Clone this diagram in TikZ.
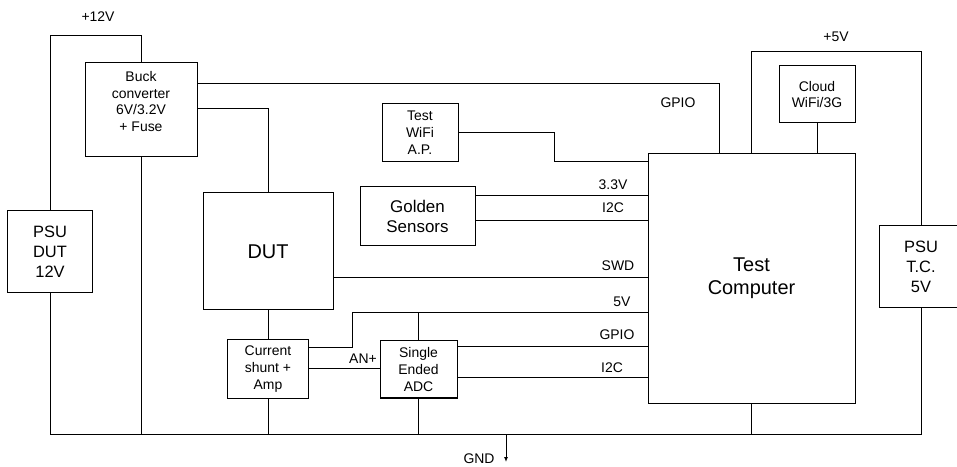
\documentclass[tikz,border=0pt]{standalone}
\usepackage{fontspec}
\setmainfont{Liberation Sans}
\usetikzlibrary{arrows.meta}

\tikzset{
  blk/.style={draw, line width=1bp, inner sep=0pt, align=center, font=\fontsize{14}{17}\selectfont},
  wire/.style={line width=1bp},
  lbl/.style={font=\fontsize{14}{17}\selectfont, inner sep=0pt},
}

\begin{document}
\begin{tikzpicture}[x=1bp,y=-1bp]
  \useasboundingbox (0,0) rectangle (957,467);
  % supplies
  \node[blk, minimum width=84bp, minimum height=82bp, font=\fontsize{16.5}{20}\selectfont] (psudut) at (50,252) {PSU\\DUT\\12V};
  \node[blk, minimum width=84bp, minimum height=82bp, font=\fontsize{16.5}{20}\selectfont] (psutc) at (921,267) {PSU\\T.C.\\5V};
  \node[blk, minimum width=112bp, minimum height=94bp] (buck) at (141,110) {};
  \node[lbl, align=center] (bucktxt) at (141,101.5) {Buck\\converter\\6V/3.2V\\+ Fuse};
  % device side
  \node[blk, minimum width=130bp, minimum height=117bp, font=\fontsize{20}{23}\selectfont] (dut) at (268,251.5) {DUT};
  \node[blk, minimum width=81bp, minimum height=58bp] (shunt) at (268,369) {Current\\shunt +\\Amp};
  \node[blk, minimum width=77bp, minimum height=57bp] (adc) at (418.5,369.5) {Single\\Ended\\ADC};
  \node[blk, minimum width=76bp, minimum height=58bp] (wifiap) at (420,133) {Test\\WiFi\\A.P.};
  \node[blk, minimum width=115bp, minimum height=59bp, font=\fontsize{17}{19.5}\selectfont] (golden) at (417.5,216.5) {Golden\\Sensors};
  % test computer
  \node[blk, minimum width=207bp, minimum height=249bp, font=\fontsize{20}{23}\selectfont] (tc) at (751.5,278.5) {Test\\Computer};
  \node[blk, minimum width=76bp, minimum height=57bp] (cloud) at (817,94.5) {Cloud\\WiFi/3G};

  % rails
  \coordinate (v12) at (50,36);
  \coordinate (v5) at (921,52);
  \coordinate (gndl) at (50,434);
  \coordinate (gndr) at (921,434);
  \coordinate (gndtap) at (506,434);
  \draw[wire] (psudut.north) -- (v12) -| (buck.north);
  \draw[wire] (tc.north) |- (v5) -- (psutc.north);
  \draw[wire] (psudut.south) -- (gndl) -- (gndr) -- (psutc.south);
  \draw[wire] (buck.south) -- (buck.south |- gndl);
  \draw[wire] (shunt.south) -- (shunt.south |- gndl);
  \draw[wire] (adc.south) -- (adc.south |- gndl);
  \draw[wire] (tc.south) -- (tc.south |- gndl);
  \draw[wire,-{Latex[length=5bp,width=4bp]}] (gndtap) -- ++(0,28);

  % signals
  \draw[wire] (buck.east |- 0,84) -| (tc.north -| 719,0);
  \draw[wire] (buck.east |- 0,109) -| (dut.north);
  \draw[wire] (cloud.south) -- (cloud.south |- tc.north);
  \draw[wire] (wifiap.east) -- ++(96,0) |- (tc.west |- 0,162);
  \draw[wire] (golden.east |- 0,196) -- (tc.west |- 0,196);
  \draw[wire] (golden.east |- 0,221) -- (tc.west |- 0,221);
  \draw[wire] (dut.east |- 0,278) -- (tc.west |- 0,278);
  \draw[wire] (dut.south) -- (shunt.north);
  \draw[wire] (shunt.east |- 0,348) -- ++(43,0) |- (tc.west |- 0,313);
  \draw[wire] (adc.north) -- (adc.north |- 0,313);
  \draw[wire] (shunt.east |- 0,369) -- (adc.west |- 0,369);
  \draw[wire] (adc.east |- 0,347) -- (tc.west |- 0,347);
  \draw[wire] (adc.east |- 0,378) -- (tc.west |- 0,378);

  % labels
  \node[lbl] (l12v) at (98,17) {+12V};
  \node[lbl] (l5v) at (836,37) {+5V};
  \node[lbl] (lgpioa) at (678,103) {GPIO};
  \node[lbl] (l33v) at (613,185) {3.3V};
  \node[lbl] (li2ca) at (613,208) {I2C};
  \node[lbl] (lswd) at (618,266) {SWD};
  \node[lbl] (l5vb) at (622,302) {5V};
  \node[lbl] (lgpiob) at (617,335) {GPIO};
  \node[lbl] (li2cb) at (612,368) {I2C};
  \node[lbl] (lan) at (363,359) {AN+};
  \node[lbl] (lgnd) at (479,459) {GND};
\end{tikzpicture}
\end{document}
